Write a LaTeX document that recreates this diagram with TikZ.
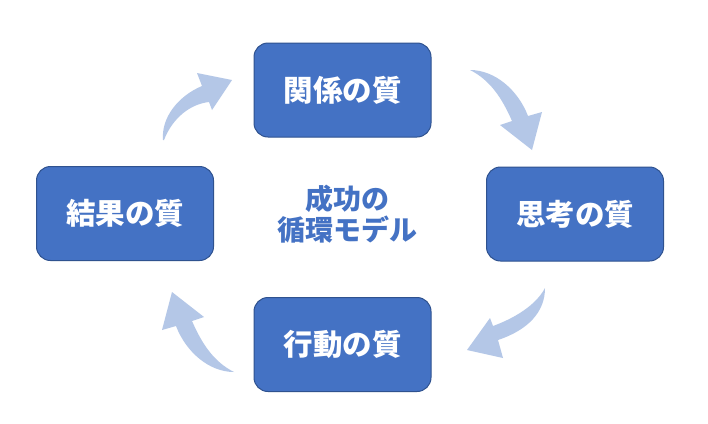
\documentclass[tikz,border=0pt]{standalone}
\usepackage{fontspec}
\newfontfamily\jp{Noto Sans CJK JP}
\definecolor{boxfill}{HTML}{4472C4}
\definecolor{boxline}{HTML}{2F528F}
\definecolor{arrowc}{HTML}{B4C7E7}
\begin{document}
\begin{tikzpicture}[x=1pt,y=-1pt,
  qbox/.style={draw=boxline, fill=boxfill, line width=1pt, rounded corners=14pt,
    minimum width=177pt, minimum height=94pt, inner sep=0pt, text=white,
    font=\jp\bfseries\fontsize{29.5}{33}\selectfont},
  flow/.style={fill=arrowc},
  title/.style={text=boxfill, align=center, font=\jp\bfseries\fontsize{28}{31}\selectfont}]
\useasboundingbox (0,0) rectangle (708,423);
\fill[white] (0,0) rectangle (708,423);

\node[qbox] (kankei) at (342.5,90) {関係の質};
\node[qbox] (shikou) at (575,214) {思考の質};
\node[qbox] (koudou) at (342.5,344.5) {行動の質};
\node[qbox] (kekka) at (125,213.5) {結果の質};
\node[title] (center) at (347,214) {成功の\\循環モデル};

% arrow: kekka -> kankei
\fill[flow] (163,140) .. controls (161,118) and (178,96) .. (202,86)
  -- (197,73) -- (232,80) -- (212,110) -- (209,102)
  .. controls (191,104) and (173,117) .. (164,140) -- cycle;
% arrow: kankei -> shikou
\path[flow] (470,70) .. controls (495,70) and (518,90) .. (528,116)
  -- (542,112) -- (532,150) -- (500,125) -- (512,121)
  .. controls (502,98) and (490,80) .. (470,70) -- cycle;
% arrow: shikou -> koudou
\fill[flow] (545,288) .. controls (545,312) and (528,330) .. (498,340)
  -- (503,358) -- (467,350) -- (490,318) -- (493,326)
  .. controls (515,318) and (536,305) .. (545,288) -- cycle;
% arrow: koudou -> kekka
\begin{scope}[rotate around={180:(352,221)}]
\fill[flow] (470,70) .. controls (495,70) and (518,90) .. (528,116)
  -- (542,112) -- (532,150) -- (500,125) -- (512,121)
  .. controls (502,98) and (490,80) .. (470,70) -- cycle;
\end{scope}
\end{tikzpicture}
\end{document}
